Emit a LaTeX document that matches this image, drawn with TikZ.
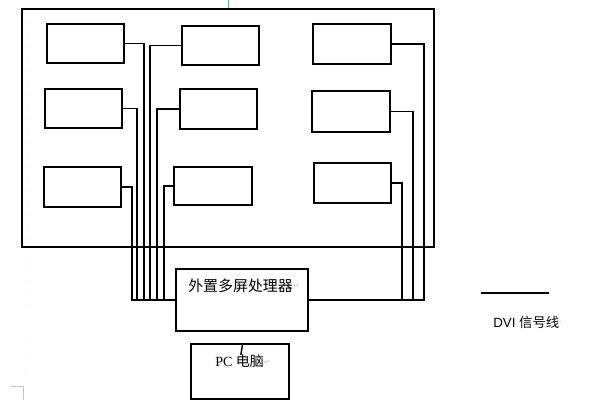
\documentclass[tikz,border=0pt]{standalone}
\usepackage{fontspec}
\setmainfont{Liberation Serif}
\newfontfamily\cjk{Noto Sans CJK SC}
\newfontfamily\lsans{Liberation Sans}
\newfontfamily\djv{DejaVu Sans}
\begin{document}
\begin{tikzpicture}[x=0.75pt,y=-0.75pt,
  blk/.style={draw, line width=1.3pt, anchor=north west, inner sep=0pt, outer sep=0pt},
  bx/.style n args={2}{minimum width=#1*0.75pt, minimum height=#2*0.75pt},
  wire/.style={line width=1.3pt},
  pmark/.style={text=gray!60, inner sep=0pt, font=\djv\fontsize{5}{5}\selectfont},
  faint/.style={draw=gray!45, line width=0.5pt},
  lbl/.style={inner sep=0pt, anchor=west}]
\useasboundingbox (0,0) rectangle (599,409);
% outer screen wall
\node[blk, bx={412}{238}] (O) at (22,9) {};
% screens
\node[blk, bx={77}{39}] (L1) at (47,24) {};
\node[blk, bx={77}{39}] (L2) at (45,89) {};
\node[blk, bx={77}{40}] (L3) at (44,167) {};
\node[blk, bx={77}{39}] (M1) at (182,26) {};
\node[blk, bx={77}{40}] (M2) at (180,89) {};
\node[blk, bx={78}{38}] (M3) at (174,167) {};
\node[blk, bx={78}{40}] (R1) at (313,24) {};
\node[blk, bx={78}{41}] (R2) at (312,91) {};
\node[blk, bx={77}{40}] (R3) at (314,163) {};
% processor and PC
\node[blk, bx={132}{62}] (P) at (176,269) {};
\node[blk, bx={98}{55}] (PC) at (191,344) {};
\node[lbl, font=\cjk\fontsize{11.2}{12}\selectfont] (Pt) at (188,286) {外置多屏处理器};
\node[pmark, anchor=west] (Pm) at (Pt.east) {↵};
\node[lbl, font=\fontsize{10.5}{12}\selectfont] (PCt) at (215,361) {PC {\cjk 电脑}};
\node[pmark, anchor=west] (PCm) at ([yshift=-1pt]PCt.east) {↵};
% wires
\draw[wire] (L1.east) -| (144,300) -- (P.west);
\draw[wire] (L2.east) -| (137,300) -- (P.west);
\draw[wire] (L3.east) -| (132,300) -- (P.west);
\draw[wire] (M1.west) -| (150,300) -- (P.west);
\draw[wire] (M2.west) -| (157,300) -- (P.west);
\draw[wire] (M3.west) -| (164,300) -- (P.west);
\draw[wire] (R1.east) -| (424,300) -- (P.east);
\draw[wire] (R2.east) -| (413,300) -- (P.east);
\draw[wire] (R3.east) -| (402,300) -- (P.east);
% short stub at PC
\coordinate (pcA) at (242.7,343.5);
\coordinate (pcB) at (240.8,355);
\draw[line width=1.1pt] (pcA) -- (pcB);
% legend
\coordinate (lgA) at (481,293);
\coordinate (lgB) at (549,293);
\draw[wire] (lgA) -- (lgB);
\node[lbl, font=\lsans\fontsize{10}{12}\selectfont] (lgt) at (493,322) {DVI {\cjk 信号线}};
\node[pmark, anchor=west] (lgm) at ([yshift=-1pt]lgt.east) {.};
% editor marks
\coordinate (tkA) at (228,0);
\coordinate (tkB) at (228,8);
\draw[draw=cyan!50!gray, line width=0.6pt] (tkA) -- (tkB);
\coordinate (cnA) at (10,386);
\coordinate (cnB) at (23,386);
\coordinate (cnC) at (23,400);
\draw[faint] (cnA) -- (cnB) -- (cnC);
\foreach \yy in {22,34,46,58,70,82,94,106,118,130,142,154,166,178,190,202,214,226,238}
  \fill[gray!40] (27,\yy) circle (0.5);
\foreach \yy in {259,270,282,294,306,340,353,372}
  \fill[gray!40] (26,\yy) circle (0.5);
\end{tikzpicture}
\end{document}
